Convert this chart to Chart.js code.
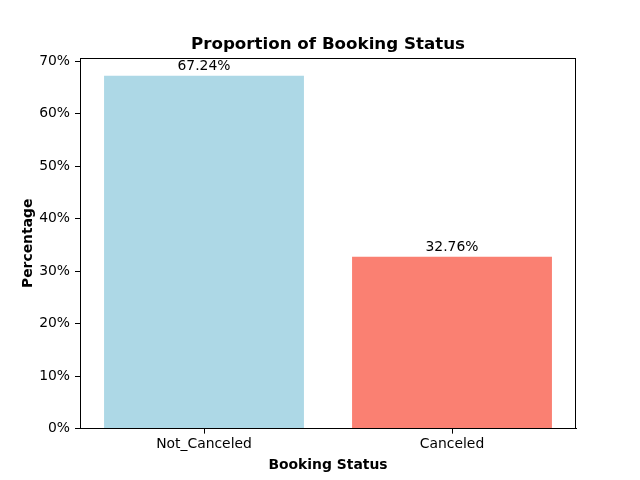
<!DOCTYPE html>
<html>
<head>
<meta charset="utf-8">
<script src="https://cdn.jsdelivr.net/npm/chart.js@4/dist/chart.umd.min.js"></script>
<style>
html,body{margin:0;padding:0;background:#fff;}
#wrap{width:640px;height:480px;position:relative;}
</style>
</head>
<body>
<div id="wrap"><canvas id="c" width="640" height="480"></canvas></div>
<script>
const categories = ["Not_Canceled", "Canceled"];
const percentages = [67.24, 32.76];
const barColors = ["#ADD8E6", "#FA8072"];
const yTicks = [0, 10, 20, 30, 40, 50, 60, 70];
const chartTitle = "Proportion of Booking Status";

const FONT = "'DejaVu Sans', sans-serif";

const framePlugin = {
  id: 'frame',
  afterDraw(chart) {
    const {ctx, chartArea: a} = chart;
    ctx.save();
    ctx.strokeStyle = '#000';
    ctx.lineWidth = 1;
    ctx.strokeRect(Math.round(a.left) + 0.5, Math.round(a.top) + 0.5,
                   Math.round(a.right - a.left) - 1, Math.round(a.bottom - a.top) - 1);
    ctx.font = "bold 16.7px " + FONT;
    ctx.fillStyle = '#000';
    ctx.textAlign = 'center';
    ctx.textBaseline = 'bottom';
    ctx.fillText(chartTitle, (a.left + a.right) / 2, a.top - 5);
    ctx.restore();
  }
};

const labelPlugin = {
  id: 'barLabels',
  afterDatasetsDraw(chart) {
    const {ctx} = chart;
    const meta = chart.getDatasetMeta(0);
    ctx.save();
    ctx.font = "13.9px " + FONT;
    ctx.fillStyle = '#000';
    ctx.textAlign = 'center';
    ctx.textBaseline = 'bottom';
    meta.data.forEach((bar, i) => {
      ctx.fillText(percentages[i].toFixed(2) + '%', bar.x, bar.y - 2);
    });
    ctx.restore();
  }
};

new Chart(document.getElementById('c'), {
  type: 'bar',
  data: {
    labels: categories,
    datasets: [{
      data: percentages,
      backgroundColor: barColors,
      borderWidth: 0,
      barPercentage: 0.806,
      categoryPercentage: 1.0
    }]
  },
  options: {
    responsive: false,
    animation: false,
    devicePixelRatio: 1,
    layout: { padding: { left: 20, right: 64, top: 58, bottom: 6 } },
    plugins: {
      legend: { display: false },
      tooltip: { enabled: false },
      title: { display: false }
    },
    scales: {
      x: {
        offset: true,
        grid: { display: true, offset: false, drawOnChartArea: false, drawTicks: true, tickLength: 5, color: '#000' },
        border: { display: true, color: '#000' },
        ticks: { color: '#000', font: { family: FONT, size: 13.9 }, padding: 2, maxRotation: 0 },
        title: {
          display: true, text: 'Booking Status', color: '#000',
          font: { family: FONT, size: 13.9, weight: 'bold' }, padding: { top: 3, bottom: 0 }
        }
      },
      y: {
        min: 0,
        max: 70.6,
        afterBuildTicks(scale) {
          scale.ticks = yTicks.map(v => ({ value: v }));
        },
        afterFit(scale) { scale.width = 60; },
        grid: { display: true, drawOnChartArea: false, drawTicks: true, tickLength: 5, color: '#000' },
        border: { display: true, color: '#000' },
        ticks: {
          color: '#000', font: { family: FONT, size: 13.9 }, padding: 5,
          callback: (v) => v + '%'
        },
        title: {
          display: true, text: 'Percentage', color: '#000',
          font: { family: FONT, size: 13.9, weight: 'bold' }, padding: { top: 0, bottom: 4 }
        }
      }
    }
  },
  plugins: [framePlugin, labelPlugin]
});
</script>
</body>
</html>
